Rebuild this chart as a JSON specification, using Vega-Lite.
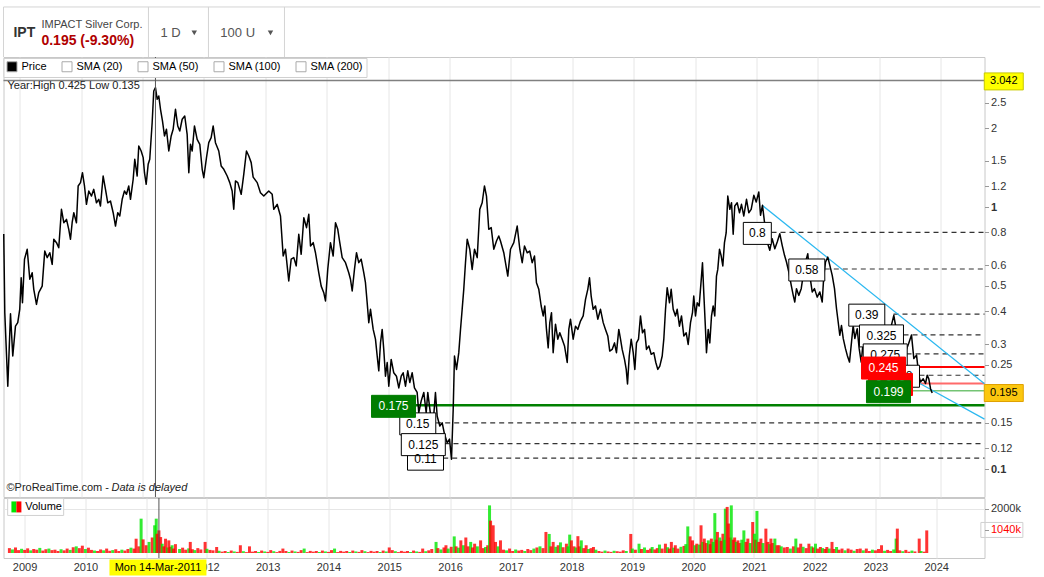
{
  "$schema": "https://vega.github.io/schema/vega-lite/v6.json",
  "padding": {"left": 1.5, "top": 5, "right": 0, "bottom": 0},
  "background": "white",
  "spacing": 1,
  "bounds": "flush",
  "config": {
    "font": "Liberation Sans",
    "view": {"stroke": "#c8c8c8"},
    "axis": {"gridColor": "#e6e6e6", "labelFont": "Liberation Sans", "labelFontSize": 11, "labelColor": "#333", "domain": false}
  },
  "datasets": {
    "price": [
      {"year":2008.739,"close":0.789},{"year":2008.756,"close":0.395},{"year":2008.805,"close":0.207},{"year":2008.849,"close":0.391},{"year":2008.886,"close":0.270},{"year":2008.930,"close":0.351},{"year":2008.967,"close":0.362},{"year":2009.000,"close":0.408},{"year":2009.023,"close":0.537},{"year":2009.044,"close":0.431},{"year":2009.077,"close":0.632},{"year":2009.121,"close":0.690},{"year":2009.163,"close":0.530},{"year":2009.202,"close":0.561},{"year":2009.228,"close":0.485},{"year":2009.272,"close":0.425},{"year":2009.309,"close":0.471},{"year":2009.365,"close":0.499},{"year":2009.407,"close":0.679},{"year":2009.446,"close":0.641},{"year":2009.489,"close":0.669},{"year":2009.528,"close":0.604},{"year":2009.554,"close":0.753},{"year":2009.598,"close":0.731},{"year":2009.635,"close":0.699},{"year":2009.679,"close":0.980},{"year":2009.717,"close":0.871},{"year":2009.761,"close":0.897},{"year":2009.798,"close":0.822},{"year":2009.826,"close":0.753},{"year":2009.853,"close":0.871},{"year":2009.880,"close":0.951},{"year":2009.923,"close":0.871},{"year":2009.951,"close":1.203},{"year":2009.989,"close":1.239},
      {"year":2010.021,"close":1.352},{"year":2010.054,"close":1.203},{"year":2010.086,"close":1.024},{"year":2010.124,"close":1.151},{"year":2010.168,"close":1.101},{"year":2010.205,"close":1.168},{"year":2010.249,"close":1.038},{"year":2010.287,"close":1.070},{"year":2010.314,"close":1.009},{"year":2010.358,"close":1.313},{"year":2010.396,"close":1.168},{"year":2010.433,"close":1.038},{"year":2010.477,"close":1.054},{"year":2010.521,"close":0.951},{"year":2010.559,"close":0.846},{"year":2010.596,"close":0.951},{"year":2010.629,"close":0.924},{"year":2010.668,"close":1.070},{"year":2010.705,"close":1.151},{"year":2010.738,"close":1.118},{"year":2010.775,"close":1.203},{"year":2010.803,"close":1.070},{"year":2010.847,"close":1.276},{"year":2010.873,"close":1.521},{"year":2010.912,"close":1.313},{"year":2010.938,"close":1.709},{"year":2010.977,"close":1.636},
      {"year":2011.010,"close":1.543},{"year":2011.031,"close":1.352},{"year":2011.059,"close":1.221},{"year":2011.091,"close":1.455},{"year":2011.117,"close":1.521},{"year":2011.156,"close":2.098},{"year":2011.182,"close":2.772},{"year":2011.210,"close":2.853},{"year":2011.238,"close":2.577},{"year":2011.264,"close":2.653},{"year":2011.292,"close":2.360},{"year":2011.324,"close":2.130},{"year":2011.357,"close":1.867},{"year":2011.389,"close":1.980},{"year":2011.427,"close":1.636},{"year":2011.466,"close":1.867},{"year":2011.498,"close":1.980},{"year":2011.536,"close":2.360},{"year":2011.573,"close":2.038},{"year":2011.606,"close":1.950},{"year":2011.645,"close":2.162},{"year":2011.687,"close":2.225},{"year":2011.726,"close":1.894},{"year":2011.753,"close":1.352},{"year":2011.780,"close":1.735},{"year":2011.808,"close":1.636},{"year":2011.845,"close":2.038},{"year":2011.889,"close":1.813},{"year":2011.932,"close":1.735},{"year":2011.971,"close":1.393},{"year":2011.997,"close":1.294},
      {"year":2012.041,"close":1.543},{"year":2012.078,"close":1.760},{"year":2012.117,"close":1.839},{"year":2012.150,"close":2.038},{"year":2012.187,"close":1.760},{"year":2012.241,"close":1.636},{"year":2012.280,"close":1.434},{"year":2012.323,"close":1.393},{"year":2012.378,"close":1.313},{"year":2012.420,"close":1.239},{"year":2012.459,"close":1.151},{"year":2012.485,"close":0.980},{"year":2012.513,"close":1.257},{"year":2012.551,"close":1.239},{"year":2012.583,"close":1.168},{"year":2012.606,"close":1.118},{"year":2012.648,"close":1.333},{"year":2012.692,"close":1.636},{"year":2012.730,"close":1.565},{"year":2012.769,"close":1.477},{"year":2012.801,"close":1.300},{"year":2012.867,"close":1.239},{"year":2012.920,"close":1.134},{"year":2012.974,"close":1.101},
      {"year":2013.055,"close":1.151},{"year":2013.111,"close":1.118},{"year":2013.137,"close":0.980},{"year":2013.192,"close":1.024},{"year":2013.246,"close":0.924},{"year":2013.290,"close":0.650},{"year":2013.327,"close":0.690},{"year":2013.381,"close":0.522},{"year":2013.420,"close":0.632},{"year":2013.463,"close":0.641},{"year":2013.502,"close":0.596},{"year":2013.544,"close":0.787},{"year":2013.583,"close":0.660},{"year":2013.626,"close":0.910},{"year":2013.670,"close":0.834},{"year":2013.707,"close":0.938},{"year":2013.735,"close":0.710},{"year":2013.779,"close":0.731},{"year":2013.816,"close":0.669},{"year":2013.870,"close":0.561},{"year":2013.909,"close":0.499},{"year":2013.951,"close":0.471},{"year":2013.979,"close":0.438},
      {"year":2014.016,"close":0.578},{"year":2014.060,"close":0.731},{"year":2014.104,"close":0.650},{"year":2014.142,"close":0.871},{"year":2014.179,"close":0.822},{"year":2014.212,"close":0.731},{"year":2014.251,"close":0.641},{"year":2014.305,"close":0.613},{"year":2014.358,"close":0.561},{"year":2014.386,"close":0.530},{"year":2014.414,"close":0.478},{"year":2014.451,"close":0.578},{"year":2014.484,"close":0.669},{"year":2014.521,"close":0.613},{"year":2014.560,"close":0.632},{"year":2014.603,"close":0.561},{"year":2014.630,"close":0.514},{"year":2014.658,"close":0.431},{"year":2014.684,"close":0.362},{"year":2014.712,"close":0.407},{"year":2014.756,"close":0.341},{"year":2014.793,"close":0.313},{"year":2014.821,"close":0.270},{"year":2014.847,"close":0.237},{"year":2014.875,"close":0.303},{"year":2014.902,"close":0.341},{"year":2014.928,"close":0.286},{"year":2014.956,"close":0.226},{"year":2014.984,"close":0.255},
      {"year":2015.010,"close":0.207},{"year":2015.049,"close":0.262},{"year":2015.091,"close":0.233},{"year":2015.135,"close":0.226},{"year":2015.173,"close":0.204},{"year":2015.212,"close":0.226},{"year":2015.244,"close":0.233},{"year":2015.282,"close":0.207},{"year":2015.319,"close":0.237},{"year":2015.352,"close":0.214},{"year":2015.391,"close":0.233},{"year":2015.428,"close":0.204},{"year":2015.472,"close":0.196},{"year":2015.498,"close":0.164},{"year":2015.538,"close":0.182},{"year":2015.580,"close":0.196},{"year":2015.619,"close":0.164},{"year":2015.645,"close":0.196},{"year":2015.689,"close":0.162},{"year":2015.733,"close":0.150},{"year":2015.770,"close":0.196},{"year":2015.798,"close":0.159},{"year":2015.841,"close":0.146},{"year":2015.880,"close":0.150},{"year":2015.917,"close":0.136},{"year":2015.961,"close":0.126},{"year":2015.999,"close":0.130},
      {"year":2016.031,"close":0.109},{"year":2016.059,"close":0.169},{"year":2016.080,"close":0.270},{"year":2016.113,"close":0.240},{"year":2016.150,"close":0.278},{"year":2016.178,"close":0.341},{"year":2016.205,"close":0.407},{"year":2016.231,"close":0.485},{"year":2016.259,"close":0.613},{"year":2016.287,"close":0.753},{"year":2016.329,"close":0.690},{"year":2016.368,"close":0.578},{"year":2016.406,"close":0.690},{"year":2016.450,"close":0.641},{"year":2016.492,"close":0.980},{"year":2016.531,"close":1.038},{"year":2016.568,"close":1.203},{"year":2016.601,"close":1.101},{"year":2016.638,"close":0.822},{"year":2016.678,"close":0.834},{"year":2016.720,"close":0.690},{"year":2016.764,"close":0.742},{"year":2016.801,"close":0.775},{"year":2016.829,"close":0.742},{"year":2016.883,"close":0.669},{"year":2016.948,"close":0.545},{"year":2016.992,"close":0.690},
      {"year":2017.046,"close":0.731},{"year":2017.101,"close":0.846},{"year":2017.144,"close":0.690},{"year":2017.183,"close":0.613},{"year":2017.220,"close":0.710},{"year":2017.264,"close":0.669},{"year":2017.306,"close":0.679},{"year":2017.345,"close":0.613},{"year":2017.383,"close":0.650},{"year":2017.415,"close":0.514},{"year":2017.453,"close":0.485},{"year":2017.492,"close":0.419},{"year":2017.525,"close":0.384},{"year":2017.551,"close":0.419},{"year":2017.578,"close":0.341},{"year":2017.606,"close":0.290},{"year":2017.632,"close":0.362},{"year":2017.660,"close":0.395},{"year":2017.687,"close":0.278},{"year":2017.725,"close":0.357},{"year":2017.762,"close":0.313},{"year":2017.795,"close":0.331},{"year":2017.834,"close":0.313},{"year":2017.872,"close":0.295},{"year":2017.916,"close":0.255},{"year":2017.942,"close":0.341},{"year":2017.969,"close":0.373},
      {"year":2018.013,"close":0.313},{"year":2018.051,"close":0.351},{"year":2018.088,"close":0.341},{"year":2018.132,"close":0.367},{"year":2018.176,"close":0.384},{"year":2018.214,"close":0.444},{"year":2018.251,"close":0.485},{"year":2018.279,"close":0.537},{"year":2018.306,"close":0.457},{"year":2018.339,"close":0.407},{"year":2018.376,"close":0.419},{"year":2018.414,"close":0.373},{"year":2018.458,"close":0.407},{"year":2018.502,"close":0.362},{"year":2018.539,"close":0.341},{"year":2018.577,"close":0.322},{"year":2018.609,"close":0.282},{"year":2018.648,"close":0.286},{"year":2018.686,"close":0.303},{"year":2018.718,"close":0.278},{"year":2018.756,"close":0.341},{"year":2018.784,"close":0.313},{"year":2018.811,"close":0.286},{"year":2018.849,"close":0.262},{"year":2018.877,"close":0.240},{"year":2018.898,"close":0.211},{"year":2018.926,"close":0.270},{"year":2018.958,"close":0.313},{"year":2018.991,"close":0.278},
      {"year":2019.017,"close":0.240},{"year":2019.044,"close":0.303},{"year":2019.077,"close":0.313},{"year":2019.109,"close":0.384},{"year":2019.142,"close":0.331},{"year":2019.175,"close":0.341},{"year":2019.207,"close":0.286},{"year":2019.245,"close":0.295},{"year":2019.284,"close":0.274},{"year":2019.326,"close":0.278},{"year":2019.359,"close":0.255},{"year":2019.391,"close":0.240},{"year":2019.424,"close":0.247},{"year":2019.463,"close":0.270},{"year":2019.489,"close":0.313},{"year":2019.517,"close":0.407},{"year":2019.544,"close":0.492},{"year":2019.582,"close":0.431},{"year":2019.609,"close":0.485},{"year":2019.642,"close":0.407},{"year":2019.679,"close":0.384},{"year":2019.707,"close":0.407},{"year":2019.744,"close":0.351},{"year":2019.777,"close":0.384},{"year":2019.815,"close":0.322},{"year":2019.854,"close":0.331},{"year":2019.886,"close":0.299},{"year":2019.924,"close":0.362},{"year":2019.956,"close":0.395},{"year":2019.977,"close":0.457},
      {"year":2020.005,"close":0.384},{"year":2020.033,"close":0.431},{"year":2020.065,"close":0.419},{"year":2020.103,"close":0.545},{"year":2020.119,"close":0.613},{"year":2020.140,"close":0.471},{"year":2020.168,"close":0.341},{"year":2020.184,"close":0.278},{"year":2020.212,"close":0.341},{"year":2020.238,"close":0.303},{"year":2020.266,"close":0.384},{"year":2020.293,"close":0.419},{"year":2020.319,"close":0.384},{"year":2020.347,"close":0.545},{"year":2020.368,"close":0.578},{"year":2020.396,"close":0.690},{"year":2020.424,"close":0.650},{"year":2020.450,"close":0.596},{"year":2020.477,"close":0.731},{"year":2020.505,"close":0.798},{"year":2020.531,"close":1.101},{"year":2020.564,"close":0.980},{"year":2020.592,"close":1.038},{"year":2020.619,"close":0.787},{"year":2020.645,"close":1.009},{"year":2020.684,"close":1.038},{"year":2020.722,"close":0.951},{"year":2020.754,"close":1.024},{"year":2020.792,"close":0.924},{"year":2020.836,"close":1.070},{"year":2020.873,"close":0.951},{"year":2020.912,"close":0.980},{"year":2020.955,"close":1.108},{"year":2020.994,"close":1.045},
      {"year":2021.036,"close":1.141},{"year":2021.064,"close":0.930},{"year":2021.096,"close":1.015},{"year":2021.129,"close":0.876},{"year":2021.173,"close":0.735},{"year":2021.215,"close":0.684},{"year":2021.254,"close":0.757},{"year":2021.297,"close":0.693},{"year":2021.336,"close":0.735},{"year":2021.378,"close":0.791},{"year":2021.417,"close":0.714},{"year":2021.455,"close":0.654},{"year":2021.487,"close":0.617},{"year":2021.525,"close":0.565},{"year":2021.564,"close":0.503},{"year":2021.597,"close":0.460},{"year":2021.622,"close":0.434},{"year":2021.650,"close":0.488},{"year":2021.687,"close":0.460},{"year":2021.727,"close":0.488},{"year":2021.759,"close":0.548},{"year":2021.797,"close":0.617},{"year":2021.834,"close":0.663},{"year":2021.867,"close":0.548},{"year":2021.906,"close":0.474},{"year":2021.943,"close":0.488},{"year":2021.987,"close":0.453},
      {"year":2022.030,"close":0.474},{"year":2022.069,"close":0.434},{"year":2022.095,"close":0.548},{"year":2022.123,"close":0.617},{"year":2022.160,"close":0.644},{"year":2022.193,"close":0.599},{"year":2022.232,"close":0.548},{"year":2022.269,"close":0.488},{"year":2022.302,"close":0.409},{"year":2022.329,"close":0.364},{"year":2022.355,"close":0.324},{"year":2022.383,"close":0.353},{"year":2022.411,"close":0.315},{"year":2022.448,"close":0.288},{"year":2022.476,"close":0.272},{"year":2022.513,"close":0.256},{"year":2022.546,"close":0.305},{"year":2022.573,"close":0.353},{"year":2022.600,"close":0.315},{"year":2022.639,"close":0.343},{"year":2022.671,"close":0.288},{"year":2022.704,"close":0.256},{"year":2022.736,"close":0.305},{"year":2022.790,"close":0.280},{"year":2022.855,"close":0.300},{"year":2022.920,"close":0.270},{"year":2022.985,"close":0.290},
      {"year":2023.051,"close":0.310},{"year":2023.116,"close":0.300},{"year":2023.165,"close":0.330},{"year":2023.235,"close":0.386},{"year":2023.290,"close":0.324},{"year":2023.328,"close":0.300},{"year":2023.377,"close":0.290},{"year":2023.425,"close":0.280},{"year":2023.474,"close":0.300},{"year":2023.523,"close":0.325},{"year":2023.561,"close":0.264},{"year":2023.605,"close":0.272},{"year":2023.642,"close":0.228},{"year":2023.670,"close":0.215},{"year":2023.714,"close":0.221},{"year":2023.751,"close":0.212},{"year":2023.779,"close":0.228},{"year":2023.805,"close":0.221},{"year":2023.833,"close":0.2025},{"year":2023.860,"close":0.195}
    ],
    "volume": [
      {"year":2008.75,"volume_k":220,"dir":"down"},{"year":2008.80,"volume_k":160,"dir":"up"},{"year":2008.85,"volume_k":250,"dir":"down"},{"year":2008.90,"volume_k":130,"dir":"down"},{"year":2008.95,"volume_k":190,"dir":"up"},{"year":2009.00,"volume_k":140,"dir":"down"},{"year":2009.05,"volume_k":210,"dir":"down"},{"year":2009.10,"volume_k":120,"dir":"up"},{"year":2009.15,"volume_k":180,"dir":"down"},{"year":2009.20,"volume_k":150,"dir":"down"},{"year":2009.25,"volume_k":230,"dir":"up"},{"year":2009.30,"volume_k":110,"dir":"down"},{"year":2009.35,"volume_k":170,"dir":"down"},{"year":2009.40,"volume_k":200,"dir":"up"},{"year":2009.45,"volume_k":130,"dir":"down"},
      {"year":2009.50,"volume_k":150,"dir":"down"},{"year":2009.55,"volume_k":90,"dir":"down"},{"year":2009.60,"volume_k":170,"dir":"up"},{"year":2009.65,"volume_k":120,"dir":"down"},{"year":2009.70,"volume_k":200,"dir":"down"},{"year":2009.75,"volume_k":140,"dir":"up"},{"year":2009.80,"volume_k":260,"dir":"down"},{"year":2009.85,"volume_k":300,"dir":"up"},{"year":2009.90,"volume_k":220,"dir":"down"},{"year":2009.95,"volume_k":330,"dir":"down"},{"year":2010.00,"volume_k":180,"dir":"up"},{"year":2010.05,"volume_k":240,"dir":"down"},{"year":2010.10,"volume_k":140,"dir":"down"},{"year":2010.15,"volume_k":110,"dir":"up"},{"year":2010.20,"volume_k":90,"dir":"down"},{"year":2010.25,"volume_k":160,"dir":"down"},{"year":2010.30,"volume_k":120,"dir":"up"},{"year":2010.35,"volume_k":200,"dir":"down"},{"year":2010.40,"volume_k":100,"dir":"down"},{"year":2010.45,"volume_k":130,"dir":"up"},{"year":2010.50,"volume_k":170,"dir":"down"},{"year":2010.55,"volume_k":90,"dir":"down"},{"year":2010.60,"volume_k":150,"dir":"up"},{"year":2010.65,"volume_k":110,"dir":"down"},{"year":2010.70,"volume_k":180,"dir":"down"},{"year":2010.75,"volume_k":240,"dir":"up"},{"year":2010.80,"volume_k":200,"dir":"down"},
      {"year":2010.835,"volume_k":645,"dir":"down"},{"year":2010.88,"volume_k":300,"dir":"down"},{"year":2010.917,"volume_k":1550,"dir":"up"},{"year":2010.95,"volume_k":614,"dir":"down"},{"year":2011.00,"volume_k":350,"dir":"down"},{"year":2011.048,"volume_k":500,"dir":"up"},{"year":2011.10,"volume_k":700,"dir":"down"},{"year":2011.14,"volume_k":1250,"dir":"up"},{"year":2011.166,"volume_k":1550,"dir":"up"},{"year":2011.18,"volume_k":870,"dir":"down"},{"year":2011.21,"volume_k":1020,"dir":"down"},{"year":2011.238,"volume_k":720,"dir":"down"},{"year":2011.264,"volume_k":420,"dir":"up"},{"year":2011.29,"volume_k":300,"dir":"down"},{"year":2011.319,"volume_k":645,"dir":"down"},{"year":2011.35,"volume_k":250,"dir":"up"},{"year":2011.373,"volume_k":570,"dir":"down"},{"year":2011.40,"volume_k":280,"dir":"down"},{"year":2011.427,"volume_k":350,"dir":"up"},{"year":2011.45,"volume_k":200,"dir":"down"},{"year":2011.482,"volume_k":400,"dir":"down"},
      {"year":2011.55,"volume_k":180,"dir":"up"},{"year":2011.60,"volume_k":240,"dir":"down"},{"year":2011.65,"volume_k":150,"dir":"down"},{"year":2011.70,"volume_k":210,"dir":"up"},{"year":2011.726,"volume_k":500,"dir":"down"},{"year":2011.76,"volume_k":170,"dir":"down"},{"year":2011.80,"volume_k":130,"dir":"up"},{"year":2011.85,"volume_k":220,"dir":"down"},{"year":2011.90,"volume_k":160,"dir":"down"},{"year":2011.97,"volume_k":500,"dir":"down"},{"year":2012.00,"volume_k":190,"dir":"up"},{"year":2012.05,"volume_k":140,"dir":"down"},{"year":2012.10,"volume_k":120,"dir":"down"},{"year":2012.16,"volume_k":270,"dir":"down"},{"year":2012.20,"volume_k":100,"dir":"up"},
      {"year":2012.25,"volume_k":60,"dir":"down"},{"year":2012.30,"volume_k":90,"dir":"down"},{"year":2012.35,"volume_k":45,"dir":"up"},{"year":2012.40,"volume_k":110,"dir":"down"},{"year":2012.45,"volume_k":70,"dir":"up"},{"year":2012.50,"volume_k":50,"dir":"down"},{"year":2012.55,"volume_k":350,"dir":"down"},{"year":2012.60,"volume_k":80,"dir":"up"},{"year":2012.65,"volume_k":40,"dir":"down"},{"year":2012.70,"volume_k":300,"dir":"down"},{"year":2012.75,"volume_k":60,"dir":"down"},{"year":2012.80,"volume_k":90,"dir":"down"},{"year":2012.85,"volume_k":45,"dir":"up"},{"year":2012.90,"volume_k":110,"dir":"down"},{"year":2012.95,"volume_k":70,"dir":"up"},{"year":2013.00,"volume_k":50,"dir":"down"},{"year":2013.05,"volume_k":130,"dir":"down"},{"year":2013.10,"volume_k":80,"dir":"up"},{"year":2013.15,"volume_k":40,"dir":"down"},{"year":2013.20,"volume_k":95,"dir":"down"},{"year":2013.25,"volume_k":200,"dir":"down"},{"year":2013.30,"volume_k":90,"dir":"down"},{"year":2013.35,"volume_k":45,"dir":"up"},{"year":2013.40,"volume_k":110,"dir":"down"},{"year":2013.45,"volume_k":70,"dir":"up"},{"year":2013.50,"volume_k":50,"dir":"down"},{"year":2013.55,"volume_k":130,"dir":"down"},{"year":2013.60,"volume_k":200,"dir":"up"},{"year":2013.65,"volume_k":40,"dir":"down"},{"year":2013.70,"volume_k":95,"dir":"down"},{"year":2013.75,"volume_k":60,"dir":"down"},{"year":2013.80,"volume_k":90,"dir":"down"},{"year":2013.85,"volume_k":45,"dir":"up"},{"year":2013.90,"volume_k":110,"dir":"down"},{"year":2013.95,"volume_k":70,"dir":"up"},{"year":2014.00,"volume_k":50,"dir":"down"},{"year":2014.05,"volume_k":130,"dir":"down"},{"year":2014.10,"volume_k":200,"dir":"up"},{"year":2014.15,"volume_k":40,"dir":"down"},{"year":2014.20,"volume_k":95,"dir":"down"},{"year":2014.25,"volume_k":60,"dir":"down"},{"year":2014.30,"volume_k":90,"dir":"down"},{"year":2014.35,"volume_k":45,"dir":"up"},{"year":2014.40,"volume_k":110,"dir":"down"},{"year":2014.45,"volume_k":70,"dir":"up"},{"year":2014.50,"volume_k":50,"dir":"down"},{"year":2014.55,"volume_k":130,"dir":"down"},{"year":2014.60,"volume_k":80,"dir":"up"},{"year":2014.65,"volume_k":40,"dir":"down"},{"year":2014.70,"volume_k":95,"dir":"down"},{"year":2014.75,"volume_k":60,"dir":"down"},{"year":2014.80,"volume_k":90,"dir":"down"},{"year":2014.85,"volume_k":45,"dir":"up"},{"year":2014.90,"volume_k":110,"dir":"down"},{"year":2014.95,"volume_k":70,"dir":"up"},{"year":2015.00,"volume_k":250,"dir":"down"},{"year":2015.05,"volume_k":130,"dir":"down"},{"year":2015.10,"volume_k":80,"dir":"up"},{"year":2015.15,"volume_k":40,"dir":"down"},{"year":2015.20,"volume_k":95,"dir":"down"},{"year":2015.25,"volume_k":60,"dir":"down"},{"year":2015.30,"volume_k":90,"dir":"down"},{"year":2015.35,"volume_k":45,"dir":"up"},{"year":2015.40,"volume_k":110,"dir":"down"},{"year":2015.45,"volume_k":70,"dir":"up"},{"year":2015.50,"volume_k":50,"dir":"down"},{"year":2015.55,"volume_k":200,"dir":"down"},{"year":2015.60,"volume_k":80,"dir":"up"},{"year":2015.65,"volume_k":120,"dir":"down"},
      {"year":2015.70,"volume_k":180,"dir":"down"},{"year":2015.77,"volume_k":500,"dir":"up"},{"year":2015.80,"volume_k":220,"dir":"down"},{"year":2015.85,"volume_k":160,"dir":"up"},{"year":2015.90,"volume_k":250,"dir":"down"},{"year":2015.933,"volume_k":350,"dir":"down"},{"year":2015.97,"volume_k":200,"dir":"up"},{"year":2016.02,"volume_k":280,"dir":"down"},{"year":2016.069,"volume_k":750,"dir":"up"},{"year":2016.10,"volume_k":300,"dir":"down"},{"year":2016.14,"volume_k":240,"dir":"up"},{"year":2016.178,"volume_k":570,"dir":"down"},{"year":2016.22,"volume_k":350,"dir":"up"},{"year":2016.26,"volume_k":700,"dir":"down"},{"year":2016.30,"volume_k":300,"dir":"down"},{"year":2016.34,"volume_k":500,"dir":"up"},{"year":2016.37,"volume_k":250,"dir":"down"},{"year":2016.405,"volume_k":420,"dir":"down"},{"year":2016.45,"volume_k":300,"dir":"up"},{"year":2016.503,"volume_k":570,"dir":"down"},{"year":2016.55,"volume_k":220,"dir":"down"},{"year":2016.585,"volume_k":270,"dir":"up"},{"year":2016.62,"volume_k":350,"dir":"down"},{"year":2016.65,"volume_k":2150,"dir":"up"},{"year":2016.667,"volume_k":1460,"dir":"down"},{"year":2016.71,"volume_k":1250,"dir":"down"},{"year":2016.748,"volume_k":500,"dir":"down"},{"year":2016.79,"volume_k":300,"dir":"up"},{"year":2016.83,"volume_k":570,"dir":"down"},
      {"year":2016.88,"volume_k":150,"dir":"down"},{"year":2016.93,"volume_k":120,"dir":"up"},{"year":2016.98,"volume_k":200,"dir":"down"},{"year":2017.03,"volume_k":90,"dir":"down"},{"year":2017.08,"volume_k":160,"dir":"up"},{"year":2017.13,"volume_k":110,"dir":"down"},{"year":2017.18,"volume_k":140,"dir":"down"},{"year":2017.23,"volume_k":90,"dir":"up"},{"year":2017.28,"volume_k":180,"dir":"down"},{"year":2017.33,"volume_k":130,"dir":"down"},{"year":2017.38,"volume_k":200,"dir":"up"},
      {"year":2017.43,"volume_k":250,"dir":"down"},{"year":2017.48,"volume_k":300,"dir":"up"},{"year":2017.53,"volume_k":220,"dir":"down"},{"year":2017.578,"volume_k":950,"dir":"down"},{"year":2017.632,"volume_k":860,"dir":"up"},{"year":2017.66,"volume_k":300,"dir":"down"},{"year":2017.697,"volume_k":500,"dir":"down"},{"year":2017.74,"volume_k":280,"dir":"up"},{"year":2017.78,"volume_k":350,"dir":"down"},{"year":2017.817,"volume_k":480,"dir":"up"},{"year":2017.86,"volume_k":260,"dir":"down"},{"year":2017.915,"volume_k":420,"dir":"down"},{"year":2017.94,"volume_k":300,"dir":"up"},{"year":2017.969,"volume_k":830,"dir":"up"},{"year":2017.997,"volume_k":570,"dir":"down"},{"year":2018.04,"volume_k":300,"dir":"down"},{"year":2018.07,"volume_k":250,"dir":"up"},{"year":2018.104,"volume_k":760,"dir":"down"},{"year":2018.13,"volume_k":300,"dir":"down"},{"year":2018.16,"volume_k":570,"dir":"up"},{"year":2018.20,"volume_k":220,"dir":"down"},{"year":2018.24,"volume_k":350,"dir":"down"},{"year":2018.28,"volume_k":180,"dir":"up"},{"year":2018.32,"volume_k":220,"dir":"down"},{"year":2018.36,"volume_k":270,"dir":"down"},{"year":2018.40,"volume_k":150,"dir":"up"},
      {"year":2018.45,"volume_k":90,"dir":"down"},{"year":2018.50,"volume_k":60,"dir":"down"},{"year":2018.55,"volume_k":110,"dir":"up"},{"year":2018.60,"volume_k":70,"dir":"down"},{"year":2018.65,"volume_k":50,"dir":"down"},{"year":2018.70,"volume_k":100,"dir":"up"},{"year":2018.75,"volume_k":80,"dir":"down"},{"year":2018.80,"volume_k":60,"dir":"down"},{"year":2018.85,"volume_k":120,"dir":"down"},{"year":2018.90,"volume_k":90,"dir":"up"},
      {"year":2018.974,"volume_k":860,"dir":"down"},{"year":2019.00,"volume_k":200,"dir":"up"},{"year":2019.05,"volume_k":150,"dir":"down"},{"year":2019.11,"volume_k":420,"dir":"up"},{"year":2019.15,"volume_k":180,"dir":"down"},{"year":2019.20,"volume_k":250,"dir":"up"},{"year":2019.25,"volume_k":140,"dir":"down"},{"year":2019.30,"volume_k":200,"dir":"down"},{"year":2019.326,"volume_k":270,"dir":"up"},{"year":2019.37,"volume_k":160,"dir":"down"},{"year":2019.41,"volume_k":220,"dir":"down"},{"year":2019.446,"volume_k":380,"dir":"up"},{"year":2019.49,"volume_k":200,"dir":"down"},{"year":2019.544,"volume_k":420,"dir":"down"},{"year":2019.58,"volume_k":260,"dir":"up"},{"year":2019.61,"volume_k":200,"dir":"down"},{"year":2019.642,"volume_k":500,"dir":"down"},{"year":2019.68,"volume_k":240,"dir":"up"},{"year":2019.707,"volume_k":350,"dir":"down"},{"year":2019.75,"volume_k":200,"dir":"down"},{"year":2019.80,"volume_k":280,"dir":"up"},{"year":2019.85,"volume_k":320,"dir":"down"},
      {"year":2019.88,"volume_k":400,"dir":"up"},{"year":2019.912,"volume_k":1200,"dir":"up"},{"year":2019.95,"volume_k":750,"dir":"down"},{"year":2019.99,"volume_k":570,"dir":"down"},{"year":2020.03,"volume_k":350,"dir":"up"},{"year":2020.06,"volume_k":420,"dir":"down"},{"year":2020.10,"volume_k":380,"dir":"up"},{"year":2020.13,"volume_k":1250,"dir":"down"},{"year":2020.16,"volume_k":500,"dir":"up"},{"year":2020.184,"volume_k":650,"dir":"down"},{"year":2020.22,"volume_k":450,"dir":"down"},{"year":2020.25,"volume_k":570,"dir":"up"},{"year":2020.28,"volume_k":400,"dir":"down"},{"year":2020.30,"volume_k":650,"dir":"down"},{"year":2020.33,"volume_k":500,"dir":"up"},{"year":2020.357,"volume_k":1800,"dir":"up"},{"year":2020.38,"volume_k":600,"dir":"down"},{"year":2020.40,"volume_k":950,"dir":"down"},{"year":2020.437,"volume_k":700,"dir":"up"},{"year":2020.46,"volume_k":550,"dir":"down"},{"year":2020.49,"volume_k":870,"dir":"down"},{"year":2020.51,"volume_k":600,"dir":"up"},{"year":2020.53,"volume_k":2000,"dir":"up"},{"year":2020.56,"volume_k":2080,"dir":"down"},{"year":2020.585,"volume_k":1330,"dir":"down"},{"year":2020.61,"volume_k":700,"dir":"down"},{"year":2020.628,"volume_k":2150,"dir":"up"},{"year":2020.66,"volume_k":600,"dir":"down"},{"year":2020.683,"volume_k":700,"dir":"down"},{"year":2020.71,"volume_k":500,"dir":"up"},{"year":2020.737,"volume_k":570,"dir":"down"},{"year":2020.77,"volume_k":450,"dir":"down"},{"year":2020.80,"volume_k":600,"dir":"up"},{"year":2020.835,"volume_k":1020,"dir":"up"},{"year":2020.87,"volume_k":500,"dir":"down"},{"year":2020.90,"volume_k":650,"dir":"down"},{"year":2020.94,"volume_k":450,"dir":"up"},{"year":2020.98,"volume_k":1400,"dir":"down"},{"year":2021.008,"volume_k":870,"dir":"up"},{"year":2021.03,"volume_k":600,"dir":"down"},{"year":2021.05,"volume_k":1900,"dir":"up"},{"year":2021.08,"volume_k":500,"dir":"down"},{"year":2021.115,"volume_k":650,"dir":"down"},{"year":2021.15,"volume_k":450,"dir":"up"},{"year":2021.197,"volume_k":1100,"dir":"down"},{"year":2021.23,"volume_k":500,"dir":"down"},{"year":2021.26,"volume_k":400,"dir":"up"},{"year":2021.28,"volume_k":650,"dir":"down"},{"year":2021.31,"volume_k":450,"dir":"down"},{"year":2021.345,"volume_k":650,"dir":"up"},{"year":2021.38,"volume_k":350,"dir":"down"},{"year":2021.415,"volume_k":350,"dir":"down"},{"year":2021.45,"volume_k":300,"dir":"up"},
      {"year":2021.50,"volume_k":250,"dir":"down"},{"year":2021.55,"volume_k":270,"dir":"down"},{"year":2021.60,"volume_k":200,"dir":"up"},{"year":2021.65,"volume_k":300,"dir":"down"},{"year":2021.69,"volume_k":650,"dir":"up"},{"year":2021.73,"volume_k":250,"dir":"down"},{"year":2021.77,"volume_k":420,"dir":"down"},{"year":2021.81,"volume_k":280,"dir":"up"},{"year":2021.86,"volume_k":220,"dir":"down"},{"year":2021.905,"volume_k":420,"dir":"down"},{"year":2021.95,"volume_k":300,"dir":"up"},{"year":2021.98,"volume_k":250,"dir":"down"},{"year":2022.013,"volume_k":420,"dir":"up"},{"year":2022.05,"volume_k":200,"dir":"down"},{"year":2022.094,"volume_k":270,"dir":"down"},{"year":2022.13,"volume_k":220,"dir":"up"},{"year":2022.17,"volume_k":180,"dir":"down"},{"year":2022.20,"volume_k":270,"dir":"down"},{"year":2022.24,"volume_k":200,"dir":"up"},{"year":2022.285,"volume_k":500,"dir":"down"},{"year":2022.32,"volume_k":180,"dir":"down"},{"year":2022.36,"volume_k":270,"dir":"up"},{"year":2022.40,"volume_k":150,"dir":"down"},{"year":2022.45,"volume_k":200,"dir":"down"},
      {"year":2022.50,"volume_k":120,"dir":"up"},{"year":2022.55,"volume_k":200,"dir":"down"},{"year":2022.60,"volume_k":150,"dir":"down"},{"year":2022.65,"volume_k":100,"dir":"up"},{"year":2022.70,"volume_k":180,"dir":"down"},{"year":2022.75,"volume_k":200,"dir":"down"},{"year":2022.80,"volume_k":120,"dir":"up"},{"year":2022.85,"volume_k":200,"dir":"down"},{"year":2022.90,"volume_k":90,"dir":"down"},{"year":2022.95,"volume_k":150,"dir":"up"},{"year":2023.00,"volume_k":120,"dir":"down"},{"year":2023.05,"volume_k":180,"dir":"down"},{"year":2023.10,"volume_k":350,"dir":"down"},{"year":2023.15,"volume_k":100,"dir":"up"},{"year":2023.20,"volume_k":140,"dir":"down"},{"year":2023.25,"volume_k":90,"dir":"down"},{"year":2023.30,"volume_k":160,"dir":"up"},{"year":2023.34,"volume_k":650,"dir":"up"},{"year":2023.36,"volume_k":1100,"dir":"down"},{"year":2023.40,"volume_k":120,"dir":"down"},{"year":2023.45,"volume_k":80,"dir":"up"},{"year":2023.50,"volume_k":140,"dir":"down"},{"year":2023.55,"volume_k":60,"dir":"down"},{"year":2023.60,"volume_k":110,"dir":"up"},{"year":2023.65,"volume_k":70,"dir":"down"},{"year":2023.72,"volume_k":650,"dir":"down"},{"year":2023.75,"volume_k":90,"dir":"up"},{"year":2023.80,"volume_k":60,"dir":"down"},{"year":2023.844,"volume_k":1020,"dir":"down"}
    ],
    "levels": [
      {"label":"0.8","level":0.8,"year":2021.012,"from":2021.243,"kind":"level"},
      {"label":"0.58","level":0.58,"year":2021.818,"from":2022.111,"kind":"level"},
      {"label":"0.39","level":0.39,"year":2022.795,"from":2023.230,"kind":"level"},
      {"label":"0.325","level":0.325,"year":2023.034,"from":2023.393,"kind":"level"},
      {"label":"0.275","level":0.275,"year":2023.095,"from":2023.442,"kind":"level"},
      {"label":"0.228","level":0.228,"year":2023.295,"from":2023.653,"kind":"level"},
      {"label":"0.245","level":0.245,"year":2023.067,"from":2023.426,"kind":"sell"},
      {"label":"0.212","level":0.212,"year":2023.181,"from":2023.588,"kind":"sell"},
      {"label":"0.199","level":0.199,"year":2023.148,"from":2023.507,"kind":"buy"},
      {"label":"0.175","level":0.175,"year":2015.087,"from":2015.445,"kind":"buy"},
      {"label":"0.15","level":0.15,"year":2015.482,"from":2015.782,"kind":"level"},
      {"label":"0.125","level":0.125,"year":2015.572,"from":2015.917,"kind":"level"},
      {"label":"0.11","level":0.11,"year":2015.608,"from":2015.896,"kind":"level"}
    ],
    "trend": [
      {"line":"upper","year":2021.092,"price":1.015},
      {"line":"upper","year":2024.712,"price":0.2117},
      {"line":"lower","year":2023.653,"price":0.2125},
      {"line":"lower","year":2024.712,"price":0.155}
    ]
  },
  "vconcat": [
    {
      "width": 981,
      "height": 440,
      "layer": [
        {"data": {"values": [{}]}, "mark": {"type": "rule", "color": "#d4d4d4"},
         "encoding": {"x": {"datum": 2008.735, "type": "quantitative"}, "x2": {"datum": 2025.62}, "y": {"datum": 5.8, "type": "quantitative"}}},
        {"data": {"values": [{}]}, "mark": {"type": "rule", "color": "#d4d4d4"},
         "encoding": {"x": {"datum": 2008.735, "type": "quantitative"}, "y": {"datum": 3.737, "type": "quantitative"}, "y2": {"datum": 5.8}}},
        {"data": {"values": [{}]}, "mark": {"type": "rule", "color": "#d4d4d4"},
         "encoding": {"x": {"datum": 2011.096, "type": "quantitative"}, "y": {"datum": 3.737, "type": "quantitative"}, "y2": {"datum": 5.8}}},
        {"data": {"values": [{}]}, "mark": {"type": "rule", "color": "#d4d4d4"},
         "encoding": {"x": {"datum": 2012.073, "type": "quantitative"}, "y": {"datum": 3.737, "type": "quantitative"}, "y2": {"datum": 5.8}}},
        {"data": {"values": [{}]}, "mark": {"type": "rule", "color": "#d4d4d4"},
         "encoding": {"x": {"datum": 2013.311, "type": "quantitative"}, "y": {"datum": 3.737, "type": "quantitative"}, "y2": {"datum": 5.8}}},
        {"data": {"values": [{}]}, "mark": {"type": "text", "text": "IPT", "align": "left", "baseline": "middle", "fontSize": 14, "fontWeight": "bold", "color": "#333"},
         "encoding": {"x": {"datum": 2008.897, "type": "quantitative"}, "y": {"datum": 4.615, "type": "quantitative"}}},
        {"data": {"values": [{}]}, "mark": {"type": "text", "text": "IMPACT Silver Corp.", "align": "left", "baseline": "middle", "fontSize": 11, "color": "#444"},
         "encoding": {"x": {"datum": 2009.353, "type": "quantitative"}, "y": {"datum": 4.951, "type": "quantitative"}}},
        {"data": {"values": [{}]}, "mark": {"type": "text", "text": "0.195 (-9.30%)", "align": "left", "baseline": "middle", "fontSize": 14, "fontWeight": "bold", "color": "#b00000"},
         "encoding": {"x": {"datum": 2009.353, "type": "quantitative"}, "y": {"datum": 4.313, "type": "quantitative"}}},
        {"data": {"values": [{}]}, "mark": {"type": "text", "text": "1 D", "align": "left", "baseline": "middle", "fontSize": 13, "color": "#555"},
         "encoding": {"x": {"datum": 2011.292, "type": "quantitative"}, "y": {"datum": 4.615, "type": "quantitative"}}},
        {"data": {"values": [{}]}, "mark": {"type": "text", "text": "100 U", "align": "left", "baseline": "middle", "fontSize": 13, "color": "#555"},
         "encoding": {"x": {"datum": 2012.267, "type": "quantitative"}, "y": {"datum": 4.615, "type": "quantitative"}}},
        {"data": {"values": [{}]}, "mark": {"type": "point", "shape": "triangle-down", "filled": true, "size": 30, "color": "#555", "opacity": 1},
         "encoding": {"x": {"datum": 2011.842, "type": "quantitative"}, "y": {"datum": 4.615, "type": "quantitative"}}},
        {"data": {"values": [{}]}, "mark": {"type": "point", "shape": "triangle-down", "filled": true, "size": 30, "color": "#555", "opacity": 1},
         "encoding": {"x": {"datum": 2013.083, "type": "quantitative"}, "y": {"datum": 4.615, "type": "quantitative"}}},
        {"data": {"values": [{}]}, "mark": {"type": "rule", "color": "#808080", "strokeWidth": 1.5},
         "encoding": {"y": {"datum": 3.042, "type": "quantitative"}}},
        {"data": {"name": "levels"}, "transform": [{"filter": "datum.kind == 'level'"}],
         "mark": {"type": "rule", "color": "#333", "strokeDash": [5, 4], "strokeWidth": 1.2},
         "encoding": {"x": {"field": "from", "type": "quantitative", "title": null}, "x2": {"datum": 2024.712}, "y": {"field": "level", "type": "quantitative", "title": null}}},
        {"data": {"name": "levels"}, "transform": [{"filter": "datum.label == '0.212'"}],
         "mark": {"type": "rule", "color": "#ff6a6a", "strokeWidth": 2},
         "encoding": {"x": {"field": "from", "type": "quantitative", "title": null}, "x2": {"datum": 2024.712}, "y": {"field": "level", "type": "quantitative", "title": null}}},
        {"data": {"name": "levels"}, "transform": [{"filter": "datum.label == '0.245'"}],
         "mark": {"type": "rule", "color": "#ff0000", "strokeWidth": 2},
         "encoding": {"x": {"field": "from", "type": "quantitative", "title": null}, "x2": {"datum": 2024.712}, "y": {"field": "level", "type": "quantitative", "title": null}}},
        {"data": {"name": "levels"}, "transform": [{"filter": "datum.label == '0.199'"}],
         "mark": {"type": "rule", "color": "#74c474", "strokeWidth": 1.5},
         "encoding": {"x": {"field": "from", "type": "quantitative", "title": null}, "x2": {"datum": 2024.712}, "y": {"field": "level", "type": "quantitative", "title": null}}},
        {"data": {"name": "levels"}, "transform": [{"filter": "datum.label == '0.175'"}],
         "mark": {"type": "rule", "color": "#008000", "strokeWidth": 2.5},
         "encoding": {"x": {"field": "from", "type": "quantitative", "title": null}, "x2": {"datum": 2024.712}, "y": {"field": "level", "type": "quantitative", "title": null}}},
        {"data": {"name": "trend"}, "mark": {"type": "line", "color": "#2bb8f0", "strokeWidth": 1.2, "strokeJoin": "round"},
         "encoding": {"x": {"field": "year", "type": "quantitative", "title": null}, "y": {"field": "price", "type": "quantitative", "title": null}, "detail": {"field": "line"}}},
        {"data": {"name": "price"}, "mark": {"type": "line", "color": "#000", "strokeWidth": 1.5, "strokeJoin": "round"},
         "encoding": {
           "x": {"field": "year", "type": "quantitative", "title": null,
                 "scale": {"domain": [2008.735, 2024.712], "nice": false, "zero": false},
                 "axis": {"values": [2009,2010,2011,2012,2013,2014,2015,2016,2017,2018,2019,2020,2021,2022,2023,2024], "labels": false, "ticks": false, "grid": true, "title": null, "minExtent": 0, "maxExtent": 0}},
           "y": {"field": "close", "type": "quantitative", "title": null,
                 "scale": {"type": "log", "domain": [0.0782, 3.737], "nice": false},
                 "axis": {"orient": "right", "title": null, "values": [0.1,0.12,0.15,0.2,0.25,0.3,0.4,0.5,0.6,0.8,1,1.2,1.5,2,2.5], "format": "~g", "tickSize": 4, "tickColor": "#999", "labelPadding": 2, "labelColor": "#333",
                          "labelFontWeight": {"condition": {"test": "datum.value == 1 || datum.value == 0.1", "value": "bold"}, "value": "normal"}}}
         }},
        {"data": {"values": [{}]}, "mark": {"type": "rule", "color": "#555", "strokeWidth": 1},
         "encoding": {"x": {"datum": 2011.21, "type": "quantitative"}}},
        {"data": {"name": "levels"}, "transform": [{"filter": "datum.kind == 'level' && length(datum.label) == 3"}],
         "mark": {"type": "point", "shape": "M-1,-0.786H1V0.786H-1Z", "size": 784, "filled": true, "fill": "#fff", "stroke": "#000", "strokeWidth": 1, "opacity": 1, "yOffset": 1},
         "encoding": {"x": {"field": "year", "type": "quantitative", "title": null}, "y": {"field": "level", "type": "quantitative", "title": null}}},
        {"data": {"name": "levels"}, "transform": [{"filter": "datum.kind == 'level' && length(datum.label) == 4"}],
         "mark": {"type": "point", "shape": "M-1,-0.611H1V0.611H-1Z", "size": 1296, "filled": true, "fill": "#fff", "stroke": "#000", "strokeWidth": 1, "opacity": 1, "yOffset": 1},
         "encoding": {"x": {"field": "year", "type": "quantitative", "title": null}, "y": {"field": "level", "type": "quantitative", "title": null}}},
        {"data": {"name": "levels"}, "transform": [{"filter": "datum.kind == 'level' && length(datum.label) == 5"}],
         "mark": {"type": "point", "shape": "M-1,-0.5H1V0.5H-1Z", "size": 1936, "filled": true, "fill": "#fff", "stroke": "#000", "strokeWidth": 1, "opacity": 1, "yOffset": 1},
         "encoding": {"x": {"field": "year", "type": "quantitative", "title": null}, "y": {"field": "level", "type": "quantitative", "title": null}}},
        {"data": {"name": "levels"}, "transform": [{"filter": "datum.kind == 'level'"}],
         "mark": {"type": "text", "fontSize": 12, "color": "#000", "align": "center", "baseline": "middle", "yOffset": 1},
         "encoding": {"x": {"field": "year", "type": "quantitative", "title": null}, "y": {"field": "level", "type": "quantitative", "title": null}, "text": {"field": "label"}}},
        {"data": {"name": "levels"}, "transform": [{"filter": "datum.kind == 'sell'"}],
         "mark": {"type": "point", "shape": "M-1,-0.5H1V0.5H-1Z", "size": 1936, "filled": true, "fill": "#ff0000", "stroke": "#ff0000", "strokeWidth": 1, "opacity": 1, "yOffset": 1},
         "encoding": {"x": {"field": "year", "type": "quantitative", "title": null}, "y": {"field": "level", "type": "quantitative", "title": null}}},
        {"data": {"name": "levels"}, "transform": [{"filter": "datum.kind == 'sell'"}],
         "mark": {"type": "text", "fontSize": 12, "color": "#fff", "align": "center", "baseline": "middle", "yOffset": 1},
         "encoding": {"x": {"field": "year", "type": "quantitative", "title": null}, "y": {"field": "level", "type": "quantitative", "title": null}, "text": {"field": "label"}}},
        {"data": {"name": "levels"}, "transform": [{"filter": "datum.kind == 'buy'"}],
         "mark": {"type": "point", "shape": "M-1,-0.5H1V0.5H-1Z", "size": 1936, "filled": true, "fill": "#007d00", "stroke": "#007d00", "strokeWidth": 1, "opacity": 1, "yOffset": 1},
         "encoding": {"x": {"field": "year", "type": "quantitative", "title": null}, "y": {"field": "level", "type": "quantitative", "title": null}}},
        {"data": {"name": "levels"}, "transform": [{"filter": "datum.kind == 'buy'"}],
         "mark": {"type": "text", "fontSize": 12, "color": "#fff", "align": "center", "baseline": "middle", "yOffset": 1},
         "encoding": {"x": {"field": "year", "type": "quantitative", "title": null}, "y": {"field": "level", "type": "quantitative", "title": null}, "text": {"field": "label"}}},
        {"data": {"values": [{}]}, "mark": {"type": "point", "shape": "M-1,-0.436H1V0.436H-1Z", "size": 1521, "filled": true, "fill": "#ffff00", "stroke": "#c8c800", "strokeWidth": 1, "opacity": 1, "yOffset": 1},
         "encoding": {"x": {"datum": 2025.026, "type": "quantitative"}, "y": {"datum": 3.042, "type": "quantitative"}}},
        {"data": {"values": [{}]}, "mark": {"type": "text", "text": "3.042", "fontSize": 11, "color": "#000", "align": "center", "baseline": "middle", "yOffset": 1},
         "encoding": {"x": {"datum": 2025.026, "type": "quantitative"}, "y": {"datum": 3.042, "type": "quantitative"}}},
        {"data": {"values": [{}]}, "mark": {"type": "point", "shape": "M-1,-0.436H1V0.436H-1Z", "size": 1521, "filled": true, "fill": "#fbc70f", "stroke": "#e0a000", "strokeWidth": 1, "opacity": 1},
         "encoding": {"x": {"datum": 2025.026, "type": "quantitative"}, "y": {"datum": 0.195, "type": "quantitative"}}},
        {"data": {"values": [{}]}, "mark": {"type": "text", "text": "0.195", "fontSize": 11, "color": "#000", "align": "center", "baseline": "middle"},
         "encoding": {"x": {"datum": 2025.026, "type": "quantitative"}, "y": {"datum": 0.195, "type": "quantitative"}}},
        {"data": {"values": [{}]}, "mark": {"type": "text", "text": "Year:High 0.425 Low  0.135", "fontSize": 11, "color": "#222", "align": "left", "baseline": "middle"},
         "encoding": {"x": {"datum": 2008.80, "type": "quantitative"}, "y": {"datum": 2.888, "type": "quantitative"}}},
        {"data": {"values": [{}]}, "mark": {"type": "text", "text": "©ProRealTime.com - ", "fontSize": 11, "color": "#222", "align": "left", "baseline": "middle"},
         "encoding": {"x": {"datum": 2008.783, "type": "quantitative"}, "y": {"datum": 0.0846, "type": "quantitative"}}},
        {"data": {"values": [{}]}, "mark": {"type": "text", "text": "Data is delayed", "fontSize": 11, "fontStyle": "italic", "color": "#222", "align": "left", "baseline": "middle"},
         "encoding": {"x": {"datum": 2010.494, "type": "quantitative"}, "y": {"datum": 0.0846, "type": "quantitative"}}},
        {"data": {"values": [{"series": "Price"}, {"series": "SMA (20)"}, {"series": "SMA (50)"}, {"series": "SMA (100)"}, {"series": "SMA (200)"}]},
         "mark": {"type": "point", "shape": "square", "filled": true, "stroke": "#aaa", "strokeWidth": 1, "opacity": 1, "clip": true},
         "encoding": {
           "x": {"datum": 2000, "type": "quantitative"},
           "y": {"datum": 1, "type": "quantitative"},
           "fill": {"field": "series", "type": "nominal",
                    "scale": {"domain": ["Price", "SMA (20)", "SMA (50)", "SMA (100)", "SMA (200)"], "range": ["#000", "#fff", "#fff", "#fff", "#fff"]},
                    "legend": {"orient": "none", "legendX": 0, "legendY": 1, "direction": "horizontal", "title": null, "symbolType": "square", "symbolSize": 100,
                               "symbolStrokeColor": "#aaa", "symbolStrokeWidth": 1, "labelFontSize": 11, "labelColor": "#000", "labelFont": "Liberation Sans",
                               "columnPadding": 12, "padding": 3, "fillColor": "#fff", "strokeColor": "#d0d0d0", "labelOffset": 4}}
         }}
      ]
    },
    {
      "width": 981,
      "height": 60,
      "layer": [
        {"data": {"name": "volume"}, "mark": {"type": "bar", "width": 3, "orient": "vertical", "opacity": 0.8},
         "encoding": {
           "x": {"field": "year", "type": "quantitative", "title": null,
                 "scale": {"domain": [2008.735, 2024.712], "nice": false, "zero": false},
                 "axis": {"values": [2009,2010,2011,2012,2013,2014,2015,2016,2017,2018,2019,2020,2021,2022,2023,2024], "format": "d", "ticks": false, "grid": true, "title": null, "labelPadding": 3, "labelFontSize": 11}},
           "y": {"field": "volume_k", "type": "quantitative", "title": null,
                 "scale": {"domain": [-226, 2483], "nice": false, "zero": false},
                 "axis": {"orient": "right", "title": null, "values": [1040, 2000], "labelExpr": "datum.value + 'k'", "tickSize": 4, "tickColor": "#999", "labelPadding": 2,
                          "labelColor": {"condition": {"test": "datum.value == 1040", "value": "#ff0000"}, "value": "#333"},
                          "gridOpacity": {"condition": {"test": "datum.value == 1040", "value": 0}, "value": 1}}},
           "color": {"field": "dir", "type": "nominal", "scale": {"domain": ["up", "down"], "range": ["#00e600", "#ff0000"]}, "legend": null}
         }},
        {"data": {"values": [{}]}, "mark": {"type": "rule", "color": "#555", "strokeWidth": 1},
         "encoding": {"x": {"datum": 2011.21, "type": "quantitative"}}},
        {"data": {"values": [{}]}, "mark": {"type": "point", "shape": "M-1,-0.304H1V0.304H-1Z", "size": 3136, "filled": true, "fill": "#fff", "stroke": "#d0d0d0", "strokeWidth": 1, "opacity": 1},
         "encoding": {"x": {"datum": 2009.182, "type": "quantitative"}, "y": {"datum": 2080, "type": "quantitative"}}},
        {"data": {"values": [{}]}, "mark": {"type": "point", "shape": "M-1,-2.2H1V2.2H-1Z", "size": 25, "filled": true, "fill": "#00e600", "opacity": 1},
         "encoding": {"x": {"datum": 2008.824, "type": "quantitative"}, "y": {"datum": 2080, "type": "quantitative"}}},
        {"data": {"values": [{}]}, "mark": {"type": "point", "shape": "M-1,-2.2H1V2.2H-1Z", "size": 25, "filled": true, "fill": "#ff0000", "opacity": 1},
         "encoding": {"x": {"datum": 2008.906, "type": "quantitative"}, "y": {"datum": 2080, "type": "quantitative"}}},
        {"data": {"values": [{}]}, "mark": {"type": "text", "text": "Volume", "fontSize": 11, "color": "#000", "align": "left", "baseline": "middle"},
         "encoding": {"x": {"datum": 2009.011, "type": "quantitative"}, "y": {"datum": 2080, "type": "quantitative"}}},
        {"data": {"values": [{}]}, "mark": {"type": "point", "shape": "M-1,-0.357H1V0.357H-1Z", "size": 1764, "filled": false, "stroke": "#d0d0d0", "strokeWidth": 1, "opacity": 1},
         "encoding": {"x": {"datum": 2025.08, "type": "quantitative"}, "y": {"datum": 1040, "type": "quantitative"}}},
        {"data": {"values": [{}]}, "mark": {"type": "point", "shape": "M-1,-0.165H1V0.165H-1Z", "size": 9409, "filled": true, "fill": "#ffff00", "opacity": 1},
         "encoding": {"x": {"datum": 2011.194, "type": "quantitative"}, "y": {"datum": -655, "type": "quantitative"}}},
        {"data": {"values": [{}]}, "mark": {"type": "text", "text": "Mon 14-Mar-2011", "fontSize": 11, "color": "#000", "align": "center", "baseline": "middle"},
         "encoding": {"x": {"datum": 2011.194, "type": "quantitative"}, "y": {"datum": -655, "type": "quantitative"}}}
      ]
    }
  ]
}
